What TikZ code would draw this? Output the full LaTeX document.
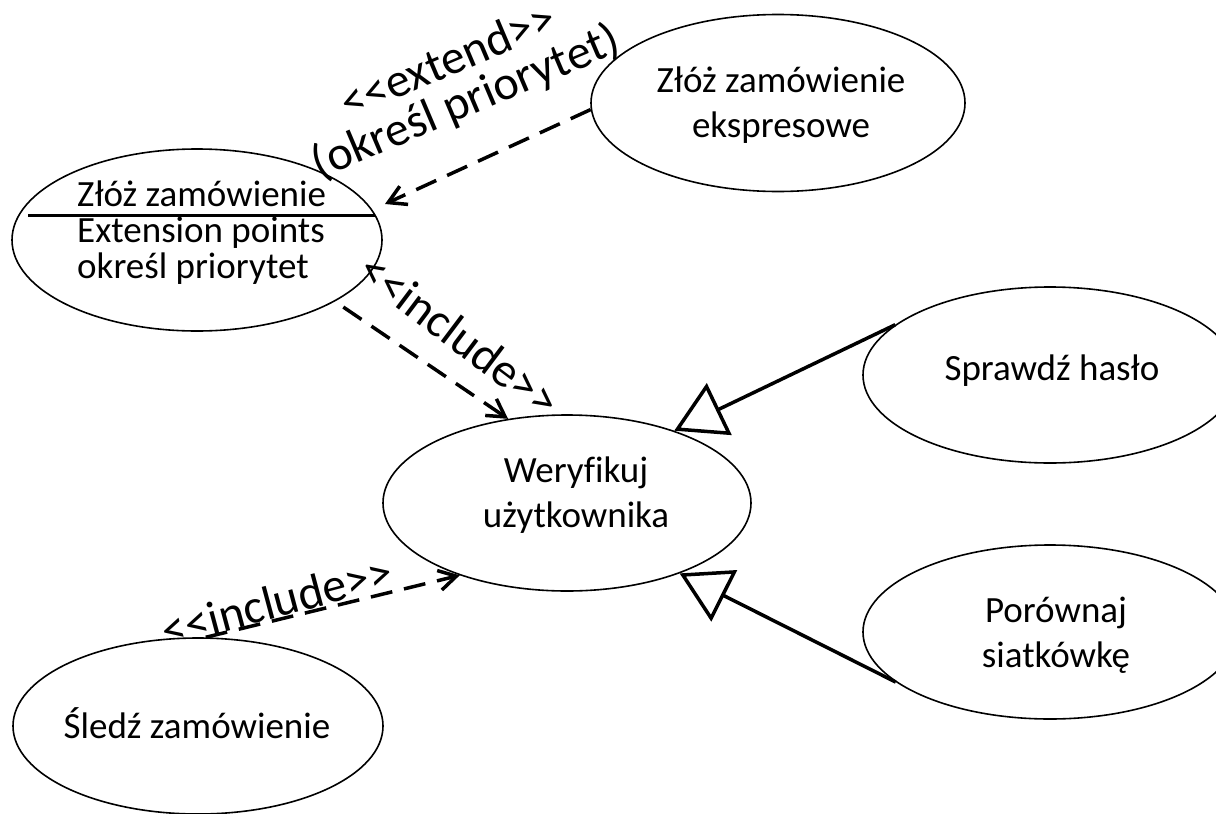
\documentclass[tikz,border=0pt]{standalone}
\usepackage{fontspec}
\setmainfont{Carlito}[Ligatures={TeXOff,CommonOff}]
\usetikzlibrary{arrows.meta,shapes.geometric}

\begin{document}
\begin{tikzpicture}[x=1pt, y=-1pt,
  usecase/.style={draw, line width=1.6pt, ellipse, inner sep=0pt},
  uctext/.style={font=\fontsize{37}{45}\selectfont, inner sep=0pt, anchor=base},
  steretype/.style={font=\fontsize{48}{46}\selectfont, inner sep=0pt, anchor=center},
  dependency/.style={line width=3.5pt, dash pattern=on 22pt off 12pt,
    -{Straight Barb[angle=60:20pt]}},
  generalization/.style={line width=3.5pt,
    -{Triangle[open, length=50pt, width=57pt]}},
]
\useasboundingbox (0,0) rectangle (1216,814);
\clip (0,0) rectangle (1216,814);

% use cases
\node[usecase, minimum width=374pt, minimum height=177pt] (A) at (778,103) {};
\node[usecase, minimum width=370pt, minimum height=182pt] (B) at (197,240) {};
\node[usecase, minimum width=368pt, minimum height=176pt] (C) at (567,503) {};
\node[usecase, minimum width=374pt, minimum height=176pt] (D) at (1050,375) {};
\node[usecase, minimum width=374pt, minimum height=174pt] (E) at (1050,632) {};
\node[usecase, minimum width=370pt, minimum height=176pt] (F) at (198,726) {};

% use case names
\node[uctext] (At) at (781,92)
  {\begin{tabular}[t]{@{}c@{}}Złóż zamówienie\\ekspresowe\end{tabular}};
\node[uctext, anchor=base west, font=\fontsize{37}{35.5}\selectfont] (Bt) at (77,206)
  {\begin{tabular}[t]{@{}l@{}}Złóż zamówienie\\Extension points\\określ priorytet\end{tabular}};
\node[uctext] (Ct) at (576,482)
  {\begin{tabular}[t]{@{}c@{}}Weryfikuj\\użytkownika\end{tabular}};
\node[uctext] (Dt) at (1052,380) {Sprawdź hasło};
\node[uctext] (Et) at (1056,622)
  {\begin{tabular}[t]{@{}c@{}}Porównaj\\siatkówkę\end{tabular}};
\node[uctext] (Ft) at (197,738) {Śledź zamówienie};

% compartment line under the use case name
\draw[line width=3pt] (28,215) -- (375,215);

% relationships
\coordinate (extTip) at (385,204);
\draw[dependency] (A.182) -- (extTip);
\draw[dependency, shorten <=10pt] (B.-24) -- (C.125);
\draw[dependency] (F.85) -- (C.214);
\draw[generalization] (D.162) -- (C.34);
\draw[generalization] (E.198) -- (C.-32);

% stereotype labels
\node[steretype, rotate=23] (extLbl) at (459,86)
  {\begin{tabular}{@{}c@{}}<<extend>>\\[-5pt](określ priorytet)\end{tabular}};
\node[steretype, rotate=-37] (incTop) at (460,335) {<<include>>};
\node[steretype, rotate=15] (incBot) at (277,601) {<<include>>};
\end{tikzpicture}
\end{document}
